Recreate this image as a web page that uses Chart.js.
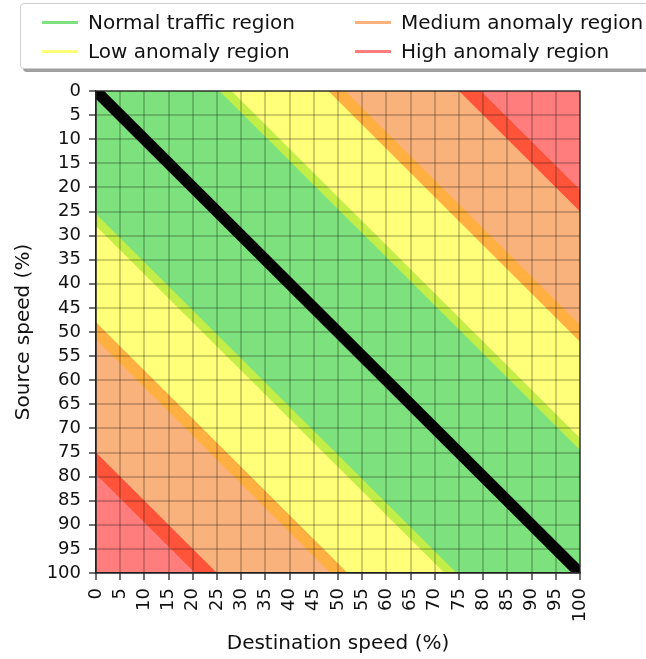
<!DOCTYPE html>
<html><head><meta charset="utf-8">
<script src="https://cdn.jsdelivr.net/npm/chart.js@4"></script>
<style>
html,body{margin:0;padding:0;background:#fff;}
#wrap{position:relative;width:646px;height:659px;overflow:hidden;}
canvas{position:absolute;left:0;top:0;}
#legend{position:absolute;left:20px;top:3px;width:660px;height:64px;border:1px solid #cfcfcf;border-radius:4px;background:#fff;box-shadow:3px 3px 0 #a0a0a0;font-family:"DejaVu Sans",sans-serif;font-size:20px;color:#111;}
.item{position:absolute;display:flex;align-items:center;height:26px;white-space:nowrap;}
.swatch{width:36px;height:3px;margin-right:10px;}
</style></head>
<body><div id="wrap"><canvas id="c" width="646" height="659"></canvas><div id="legend"></div></div>
<script>
// ---- data ----
const regionLabels = ['Normal traffic region', 'Low anomaly region', 'Medium anomaly region', 'High anomaly region'];
const regionLimits = [25.5, 48, 75, 100];         // upper bound of |destination - source| for each region (%)
const edgeLimits = [28, 51.5, 79.5];             // outer bound of the boundary stripe after each region (%)
const diagonalDst = [0, 100];                     // destination speed (%) of the reference diagonal
const diagonalSrc = [0, 100];                     // source speed (%) of the reference diagonal
const axisTicks = [0,5,10,15,20,25,30,35,40,45,50,55,60,65,70,75,80,85,90,95,100];

// ---- styles ----
const regionColors = ['rgb(125,226,125)', 'rgb(255,255,122)', 'rgb(250,178,124)', 'rgb(255,125,125)'];
const edgeColors = ['rgb(195,238,72)', 'rgb(255,176,64)', 'rgb(255,84,58)'];
const FONT = 'DejaVu Sans';

function hexagon(t) {
  if (t >= 100) return [{x:0,y:0},{x:100,y:0},{x:100,y:100},{x:0,y:100}];
  return [{x:0,y:0},{x:t,y:0},{x:100,y:100-t},{x:100,y:100},{x:100-t,y:100},{x:0,y:t}];
}
function shape(t, color, order) {
  return {data: hexagon(t), showLine: true, fill: 'shape', backgroundColor: color,
          borderColor: 'rgba(0,0,0,0)', borderWidth: 0, pointRadius: 0, order: order, clip: 0};
}

const datasets = [];
let ord = 20;
for (let i = regionLimits.length - 1; i >= 0; i--) {
  datasets.push(shape(regionLimits[i], regionColors[i], ord--));
  if (i > 0) datasets.push(shape(edgeLimits[i-1], edgeColors[i-1], ord--));
}
datasets.push({
  data: diagonalDst.map((d, i) => ({x: d, y: diagonalSrc[i]})),
  showLine: true, borderColor: '#000', borderWidth: 11.5, pointRadius: 0, fill: false, order: 0, clip: 0,
  borderCapStyle: 'butt'
});

// legend (HTML, real text)
const legendPos = [[0,0],[0,1],[1,0],[1,1]];
const lg = document.getElementById('legend');
regionLabels.forEach((lab, i) => {
  const it = document.createElement('div');
  it.className = 'item';
  it.style.left = (legendPos[i][0] ? 334 : 21) + 'px';
  it.style.top = (legendPos[i][1] ? 34 : 5) + 'px';
  const sw = document.createElement('div');
  sw.className = 'swatch'; sw.style.background = regionColors[i];
  const tx = document.createElement('span'); tx.textContent = lab;
  it.appendChild(sw); it.appendChild(tx); lg.appendChild(it);
});

const frame = {
  id: 'frame',
  afterDraw(chart) {
    const a = chart.chartArea, c = chart.ctx;
    c.save(); c.strokeStyle = '#222'; c.lineWidth = 1.2;
    c.strokeRect(a.left, a.top, a.right - a.left, a.bottom - a.top);
    c.restore();
  }
};

function axis(title, isX) {
  return {
    type: 'linear', min: 0, max: 100, reverse: !isX,
    afterBuildTicks: s => { s.ticks = axisTicks.map(v => ({value: v})); },
    afterFit: s => { if (isX) s.height = 86; else s.width = 96; },
    ticks: {autoSkip: false, color: '#111', font: {family: FONT, size: 18}, z: 3,
            padding: 8, minRotation: isX ? 90 : 0, maxRotation: isX ? 90 : 0,
            callback: v => String(v)},
    grid: {z: 1, color: 'rgba(0,0,0,0.2)', lineWidth: 2, tickColor: '#111', tickLength: 7, tickWidth: 1.2},
    border: {z: 2, color: '#222', width: 1.2},
    title: {display: true, text: title, color: '#111', font: {family: FONT, size: 20},
            padding: isX ? {top: 0, bottom: 3} : {top: 12, bottom: 0}}
  };
}

new Chart(document.getElementById('c'), {
  type: 'scatter',
  data: {datasets},
  options: {
    responsive: false, animation: false,
    layout: {padding: {top: 91, right: 66, left: 0, bottom: 0}},
    plugins: {legend: {display: false}, tooltip: {enabled: false}},
    scales: {x: axis('Destination speed (%)', true), y: axis('Source speed (%)', false)}
  },
  plugins: [frame]
});
</script>
</body></html>
